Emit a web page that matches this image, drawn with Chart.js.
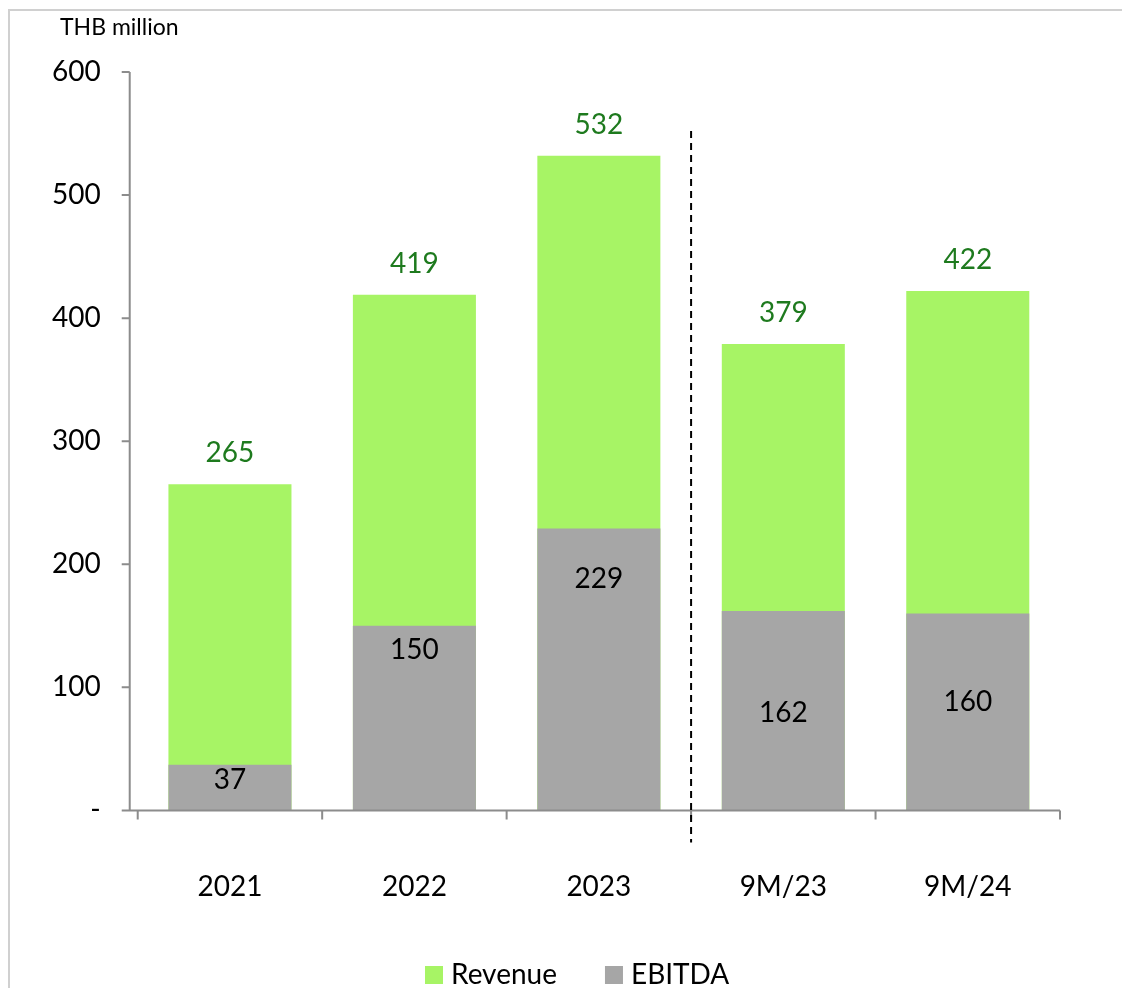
<!DOCTYPE html>
<html>
<head>
<meta charset="utf-8">
<script src="https://cdn.jsdelivr.net/npm/chart.js@4"></script>
<style>
  body { margin: 0; background: #fff; }
  #wrap { width: 1122px; height: 988px; }
</style>
</head>
<body>
<div id="wrap"><canvas id="revChart" width="1122" height="988"></canvas></div>
<script>
// data
const periods = ['2021', '2022', '2023', '9M/23', '9M/24'];
const revenue = [265, 419, 532, 379, 422];
const ebitda = [37, 150, 229, 162, 160];
const yTicks = [0, 100, 200, 300, 400, 500, 600];

// where the EBITDA label sits, as a share of the grey bar height
const ebitdaLabelAt = [0.66, 0.87, 0.82, 0.49, 0.55];

const FONT = 'Lato, "Open Sans", sans-serif';
const GREEN = '#a7f465';
const GREY = '#a6a6a6';

// frame, unit text, axis lines, divider, value labels and legend
const decor = {
  id: 'decor',
  beforeDraw(chart) {
    const c = chart.ctx;
    c.save();
    c.strokeStyle = '#d0d0d0';
    c.lineWidth = 2;
    c.beginPath();
    c.moveTo(9, 988);
    c.lineTo(9, 10);
    c.lineTo(1122, 10);
    c.stroke();
    c.restore();
  },
  afterDatasetsDraw(chart) {
    const c = chart.ctx;
    const a = chart.chartArea;
    const y = chart.scales.y;
    const ax = a.left - 8;
    c.save();
    // axes
    c.strokeStyle = '#8c8c8c';
    c.lineWidth = 2;
    c.beginPath();
    c.moveTo(ax, y.getPixelForValue(600));
    c.lineTo(ax, a.bottom);
    c.lineTo(a.right, a.bottom);
    yTicks.forEach(v => {
      const py = y.getPixelForValue(v);
      c.moveTo(ax - 8, py);
      c.lineTo(ax, py);
    });
    for (let i = 0; i <= periods.length; i++) {
      const px = a.left + (a.right - a.left) * i / periods.length;
      c.moveTo(px, a.bottom);
      c.lineTo(px, a.bottom + 9);
    }
    c.stroke();

    // dashed divider between full years and 9M
    const dx = a.left + (a.right - a.left) * 3 / periods.length;
    c.strokeStyle = '#000';
    c.lineWidth = 2;
    c.setLineDash([7, 5]);
    c.beginPath();
    c.moveTo(dx, 131);
    c.lineTo(dx, a.bottom + 32);
    c.stroke();
    c.setLineDash([]);

    // unit
    c.fillStyle = '#000';
    c.font = '23px ' + FONT;
    c.textAlign = 'left';
    c.textBaseline = 'middle';
    c.fillText('THB million', 60, 28);

    // value labels
    c.font = '28px ' + FONT;
    c.textAlign = 'center';
    const revMeta = chart.getDatasetMeta(0);
    const ebMeta = chart.getDatasetMeta(1);
    revenue.forEach((v, i) => {
      const bar = revMeta.data[i];
      c.fillStyle = '#1e7a1e';
      c.fillText(String(v), bar.x, bar.y - 31);
    });
    ebitda.forEach((v, i) => {
      const bar = ebMeta.data[i];
      const py = a.bottom - (a.bottom - bar.y) * ebitdaLabelAt[i];
      c.fillStyle = '#000';
      c.fillText(String(v), bar.x, py);
    });

    // legend
    c.textAlign = 'left';
    let lx = 425;
    chart.data.datasets.forEach(ds => {
      c.fillStyle = ds.backgroundColor;
      c.fillRect(lx, 966, 18, 18);
      c.fillStyle = '#000';
      c.fillText(ds.label, lx + 26, 975);
      lx += 26 + c.measureText(ds.label).width + 48;
    });
    c.restore();
  }
};

const ctx = document.getElementById('revChart').getContext('2d');
new Chart(ctx, {
  type: 'bar',
  data: {
    labels: periods,
    datasets: [
      { label: 'Revenue', data: revenue, backgroundColor: GREEN, grouped: false, order: 2 },
      { label: 'EBITDA', data: ebitda, backgroundColor: GREY, grouped: false, order: 1 }
    ]
  },
  options: {
    responsive: false,
    animation: false,
    events: [],
    barPercentage: 0.667,
    categoryPercentage: 1,
    layout: { padding: { left: 15, right: 62, top: 72, bottom: 24 } },
    scales: {
      x: {
        grid: { display: false, drawTicks: false },
        border: { display: false },
        ticks: { color: '#000', font: { family: FONT, size: 28 }, padding: 60 }
      },
      y: {
        min: 0,
        max: 600,
        afterBuildTicks: s => { s.ticks = yTicks.map(v => ({ value: v })); },
        grid: { display: false, drawTicks: false },
        border: { display: false },
        ticks: {
          color: '#000',
          font: { family: FONT, size: 28 },
          padding: 37,
          callback: v => (v === 0 ? '-' : v)
        }
      }
    },
    plugins: {
      tooltip: { enabled: false },
      legend: { display: false }
    }
  },
  plugins: [decor]
});
</script>
</body>
</html>
